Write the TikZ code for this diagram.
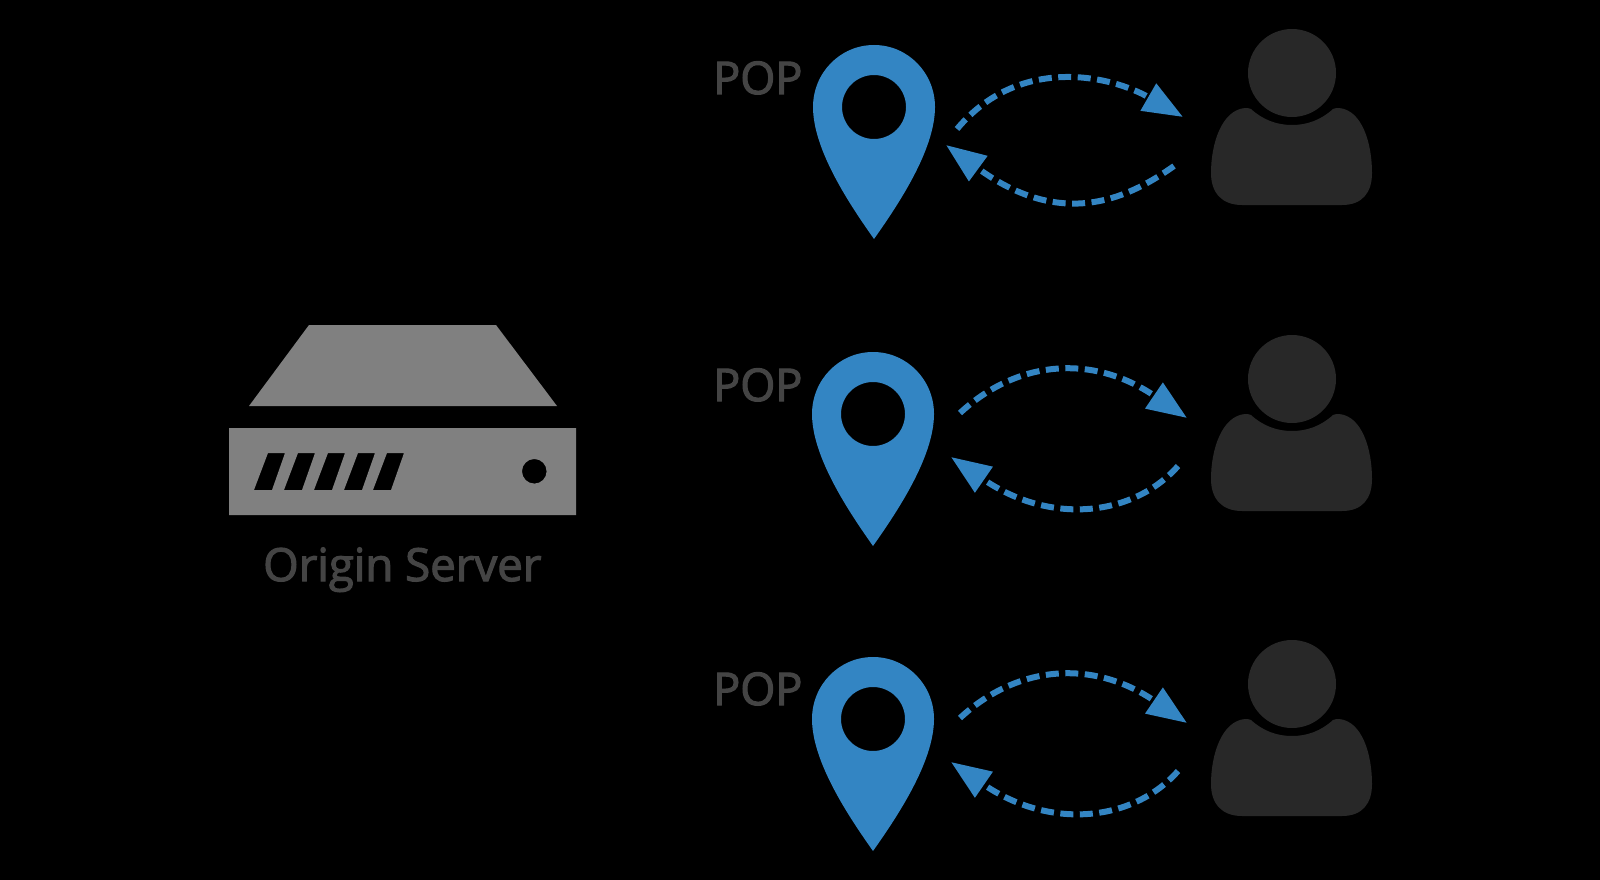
\documentclass[tikz,border=0pt]{standalone}
\usepackage{fontspec}
\setmainfont{Open Sans}[FakeBold=2.5]
\usetikzlibrary{arrows.meta}

\definecolor{pinblue}{HTML}{3385C3}
\definecolor{servergrey}{HTML}{808080}
\definecolor{userdark}{HTML}{282828}
\definecolor{labelgrey}{HTML}{444444}

\tikzset{
  hop/.style={draw=pinblue, line width=6pt, dash pattern=on 13pt off 6.5pt, -{Triangle[length=40pt,width=30pt]}},
  poplabel/.style={text=labelgrey, inner sep=0pt, anchor=base west, font=\fontsize{45}{50}\selectfont},
  hostlabel/.style={poplabel, font=\fontsize{45.6}{50}\selectfont},
  pin/.pic={
    \fill[pinblue, even odd rule] (-61,62) .. controls (-61,105) and (-24,160) .. (0,194)
      .. controls (24,160) and (61,105) .. (61,62)
      .. controls (61,28) and (34,0) .. (0,0)
      .. controls (-34,0) and (-61,28) .. (-61,62) -- cycle
      (0,62) circle[radius=32];
  },
  user/.pic={
    \fill[userdark] (0,0) circle[radius=44];
    \fill[userdark] (-41,36) .. controls (-29,47) and (-15,52) .. (0,52)
      .. controls (15,52) and (29,47) .. (41,36)
      .. controls (43,35) and (45,35) .. (47,35)
      .. controls (70,37) and (80,70) .. (80,100)
      .. controls (80,120) and (70,132) .. (50,132)
      -- (-50,132) .. controls (-70,132) and (-81,120) .. (-81,100)
      .. controls (-81,70) and (-70,37) .. (-47,35)
      .. controls (-45,35) and (-43,35) .. (-41,36) -- cycle;
  }
}

\begin{document}
\begin{tikzpicture}[x=1pt,y=-1pt]
\fill[black] (0,0) rectangle (1600,880);
\useasboundingbox (0,0) rectangle (1600,880);

% server
\fill[servergrey] (309,325) -- (496,325) -- (557,406) -- (249,406) -- cycle;
\fill[servergrey, even odd rule] (229,428) rectangle (576,515) (534.3,471.3) circle[radius=12.3]
  (268,453) -- (285,453) -- (272,490) -- (254,490) -- cycle
  (298,453) -- (315,453) -- (302,490) -- (284,490) -- cycle
  (328,453) -- (345,453) -- (332,490) -- (314,490) -- cycle
  (358,453) -- (375,453) -- (362,490) -- (344,490) -- cycle
  (387,453) -- (404,453) -- (391,490) -- (373,490) -- cycle;
\node[hostlabel] (origin) at (263,581) {Origin Server};

% first row
\node[poplabel] (pop1) at (713,94) {POP};
\pic at (874,45) {pin};
\pic at (1292,73) {user};
\coordinate (pop1out) at (957,129);
\coordinate (user1in) at (1183,117);
\coordinate (user1out) at (1174,166);
\coordinate (pop1in) at (946,145);
\draw[hop] (pop1out) .. controls (1019,55) and (1110,75) .. (user1in);
\draw[hop] (user1out) .. controls (1122,203) and (1058,227) .. (pop1in);

% second row
\node[poplabel] (pop2) at (713,401) {POP};
\pic at (873,352) {pin};
\pic at (1292,379) {user};
\coordinate (pop2out) at (960,413);
\coordinate (user2in) at (1187,418);
\coordinate (user2out) at (1178,466);
\coordinate (pop2in) at (951,457);
\draw[hop] (pop2out) .. controls (1015,362) and (1090,352) .. (user2in);
\draw[hop] (user2out) .. controls (1134,516) and (1051,526) .. (pop2in);

% third row
\node[poplabel] (pop3) at (713,705) {POP};
\pic at (873,657) {pin};
\pic at (1292,684) {user};
\coordinate (pop3out) at (960,718);
\coordinate (user3in) at (1187,723);
\coordinate (user3out) at (1178,771);
\coordinate (pop3in) at (951,762);
\draw[hop] (pop3out) .. controls (1015,667) and (1090,657) .. (user3in);
\draw[hop] (user3out) .. controls (1134,821) and (1051,831) .. (pop3in);
\end{tikzpicture}
\end{document}
